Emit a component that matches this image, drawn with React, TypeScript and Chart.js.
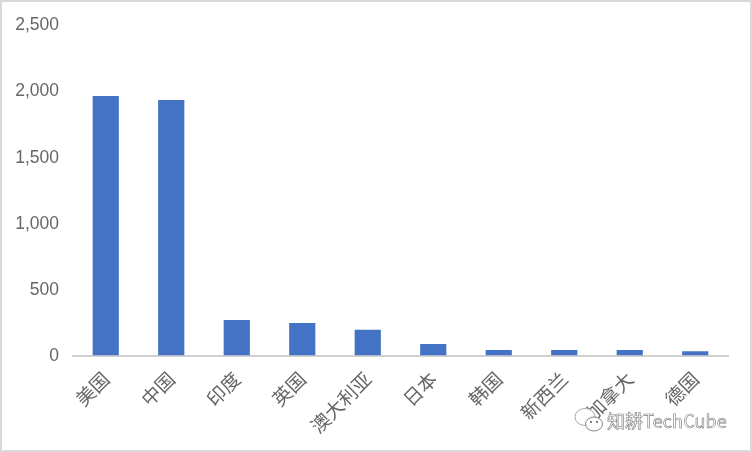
import React, { useEffect, useRef } from "react";
import { Chart, registerables } from "chart.js";

Chart.register(...registerables);

const categories = ["美国", "中国", "印度", "英国", "澳大利亚", "日本", "韩国", "新西兰", "加拿大", "德国"];
const values = [1960, 1930, 268, 245, 195, 87, 42, 42, 41, 33];
const watermark = "知耕TechCube";

export default function App() {
  const ref = useRef<HTMLCanvasElement | null>(null);
  useEffect(() => {
    document.body.style.margin = "0";
    const chart = new Chart(ref.current!, {
      type: "bar",
      data: {
        labels: categories,
        datasets: [{ data: values, backgroundColor: "#4472C4", barPercentage: 1, categoryPercentage: 0.4, borderWidth: 0 }],
      },
      options: {
        responsive: false,
        animation: false,
        layout: { padding: { top: 23, right: 24, left: 0, bottom: 0 } },
        plugins: { legend: { display: false }, tooltip: { enabled: false } },
        scales: {
          x: {
            grid: { display: false, drawTicks: false },
            border: { display: true, color: "#d0d0d0", width: 2 },
            ticks: {
              color: "#666666",
              font: { family: "'Noto Sans CJK SC'", size: 19, weight: "normal" },
              maxRotation: 45,
              minRotation: 45,
              autoSkip: false,
              padding: 12,
            },
            afterFit: (s: any) => { s.height = 96.5; },
          },
          y: {
            min: 0,
            max: 2500,
            grid: { display: false, drawTicks: false },
            border: { display: false },
            ticks: {
              stepSize: 500,
              color: "#666666",
              font: { family: "'Liberation Sans'", size: 17.5 },
              padding: 14,
              labelOffset: 0.8,
              callback: (v: any) => Number(v).toLocaleString("en-US"),
            },
            afterFit: (s: any) => { s.width = 73; },
          },
        },
      },
    });
    return () => chart.destroy();
  }, []);
  return (
    <div style={{ position: "absolute", left: 0, top: 0, width: 752, height: 452, background: "#fff", overflow: "hidden" }}>
      <canvas ref={ref} width={752} height={452} style={{ display: "block" }} />
      <div style={{ position: "absolute", inset: 0, border: "2px solid #d9d9d9", boxSizing: "border-box", pointerEvents: "none" }} />
      <svg width={34} height={30} style={{ position: "absolute", left: 573, top: 405 }} viewBox="0 0 34 30">
        <ellipse cx="12" cy="12" rx="10" ry="8.5" fill="#fff" stroke="#aaaaaa" strokeWidth="1" />
        <ellipse cx="21" cy="19" rx="8.5" ry="7" fill="#fff" stroke="#888888" strokeWidth="1" />
        <circle cx="18" cy="17" r="1" fill="#555" />
        <circle cx="24" cy="17" r="1" fill="#555" />
      </svg>
      <div style={{ position: "absolute", left: 607, top: 407, fontFamily: "'Noto Sans CJK SC'", fontSize: 18, lineHeight: "26px", whiteSpace: "nowrap", color: "#fff", WebkitTextStroke: "0.6px #777", letterSpacing: 0.1 }}>{watermark}</div>
    </div>
  );
}
